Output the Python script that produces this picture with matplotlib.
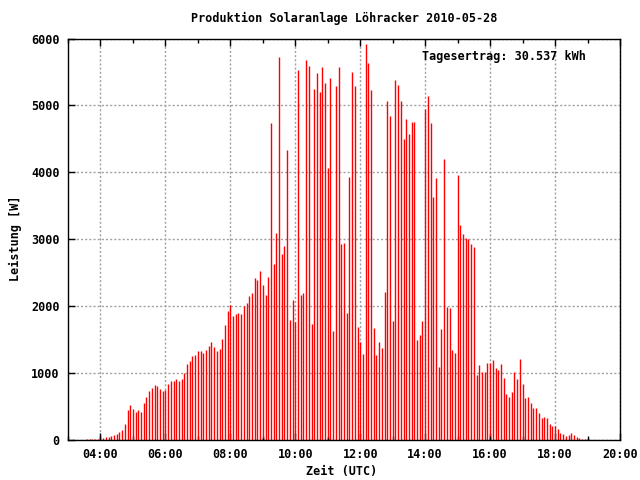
import matplotlib
matplotlib.use("Agg")
import matplotlib.pyplot as plt
import matplotlib.dates as mdates
import pandas as pd
from matplotlib.ticker import MultipleLocator

# ---- data ----
title = "Produktion Solaranlage Löhracker 2010-05-28"
day = "2010-05-28"
start_time = "03:35"
interval = "5min"
power_w = [
    15, 15, 15, 15, 15, 0,
    30, 45, 50, 65, 75, 95, 125, 155, 245, 450,
    530, 470, 420, 450, 420, 555, 645, 735, 780, 825,
    810, 765, 735, 750, 840, 885, 885, 915, 885, 915,
    1005, 1140, 1185, 1260, 1275, 1335, 1335, 1305, 1350, 1410,
    1470, 1395, 1335, 1365, 1515, 1720, 1930, 2020, 1855, 1885,
    1900, 1885, 2005, 2050, 2155, 2200, 2420, 2395, 2530, 2320,
    2170, 2440, 4730, 2630, 3095, 5730, 2780, 2900, 4340, 1796,
    2095, 1766, 5536, 2169, 2199, 5686, 5596, 1736, 5252, 5477,
    5207, 5581, 5342, 4070, 5417, 1632, 5297, 5581, 2930, 2945,
    1900, 3935, 5492, 5297, 1692, 1468, 1289, 5911, 5641, 5237,
    1677, 1274, 1468, 1378, 2214, 5073, 4848, 1781, 5387, 5312,
    5073, 4504, 4803, 4579, 4758, 4758, 1498, 1572, 1781, 4953,
    5147, 4743, 3636, 3920, 1095, 1662, 4205, 1990, 1975, 1348,
    1303, 3965, 3214, 3080, 3020, 3005, 2930, 2886, 975, 1124,
    1020, 1020, 1154, 1154, 1199, 1080, 1050, 1139, 930, 692,
    647, 721, 1020, 915, 1214, 841, 632, 647, 557, 483,
    483, 408, 333, 348, 333, 244, 214, 214, 169, 109,
    95, 65, 80, 109, 80, 50, 35, 20, 20,
]
marker_times = ["04:00", "09:00", "11:00", "16:00", "19:00"]
marker_w = [60, 30, 30, 60, 30]
yield_text = "Tagesertrag: 30.537 kWh"
x_label = "Zeit (UTC)"
y_label = "Leistung [W]"

# ---- plot ----
plt.rcParams["font.family"] = ["DejaVu Sans Mono", "DejaVu Sans"]
plt.rcParams["font.weight"] = "bold"
fs = 8.5

times = pd.date_range(f"{day} {start_time}", periods=len(power_w), freq=interval)
mtimes = pd.to_datetime([f"{day} {t}" for t in marker_times])

fig = plt.figure(figsize=(6.4, 4.8), dpi=100)
ax = fig.add_axes([68 / 640, 40 / 480, 552 / 640, 401.5 / 480])

ax.vlines(times, 0, power_w, colors="#ff0000", linewidth=1.0, zorder=3)
ax.vlines(mtimes, 0, marker_w, colors="#000000", linewidth=1.0, zorder=4)

x0 = pd.Timestamp(f"{day} 03:00")
x1 = pd.Timestamp(f"{day} 20:00")
ax.set_xlim(x0, x1)
ax.set_ylim(0, 6000)

ax.xaxis.set_major_locator(mdates.HourLocator(byhour=range(0, 24, 2)))
ax.xaxis.set_minor_locator(mdates.HourLocator(byhour=range(1, 24, 2)))
ax.xaxis.set_major_formatter(mdates.DateFormatter("%H:%M"))
ax.yaxis.set_major_locator(MultipleLocator(1000))

ax.tick_params(axis="both", which="major", direction="in", length=5, width=1,
               labelsize=fs, pad=6)
ax.tick_params(axis="x", which="both", top=True)
ax.tick_params(axis="x", which="minor", direction="in", length=3, width=1)
ax.tick_params(axis="y", which="both", right=False)

ax.grid(True, which="major", color="#a0a0a0", linestyle=(0, (1.5, 1.5)), linewidth=1.0, zorder=1)

for s in ax.spines.values():
    s.set_linewidth(1.0)
    s.set_color("black")
    s.set_zorder(5)

fig.text(344 / 640, 1 - 18 / 480, title, ha="center", va="center", fontsize=fs, fontweight="bold")
ax.text(0.938, 0.955, yield_text, transform=ax.transAxes, ha="right", va="center",
        fontsize=fs, fontweight="bold", zorder=6)
fig.text(342 / 640, 1 - 472 / 480, x_label, ha="center", va="center", fontsize=fs, fontweight="bold")
fig.text(15 / 640, 1 - 238 / 480, y_label, ha="center", va="center", rotation=90,
         fontsize=fs, fontweight="bold")

for lbl in ax.get_xticklabels() + ax.get_yticklabels():
    lbl.set_fontweight("bold")

fig.savefig("out.png", dpi=100)
